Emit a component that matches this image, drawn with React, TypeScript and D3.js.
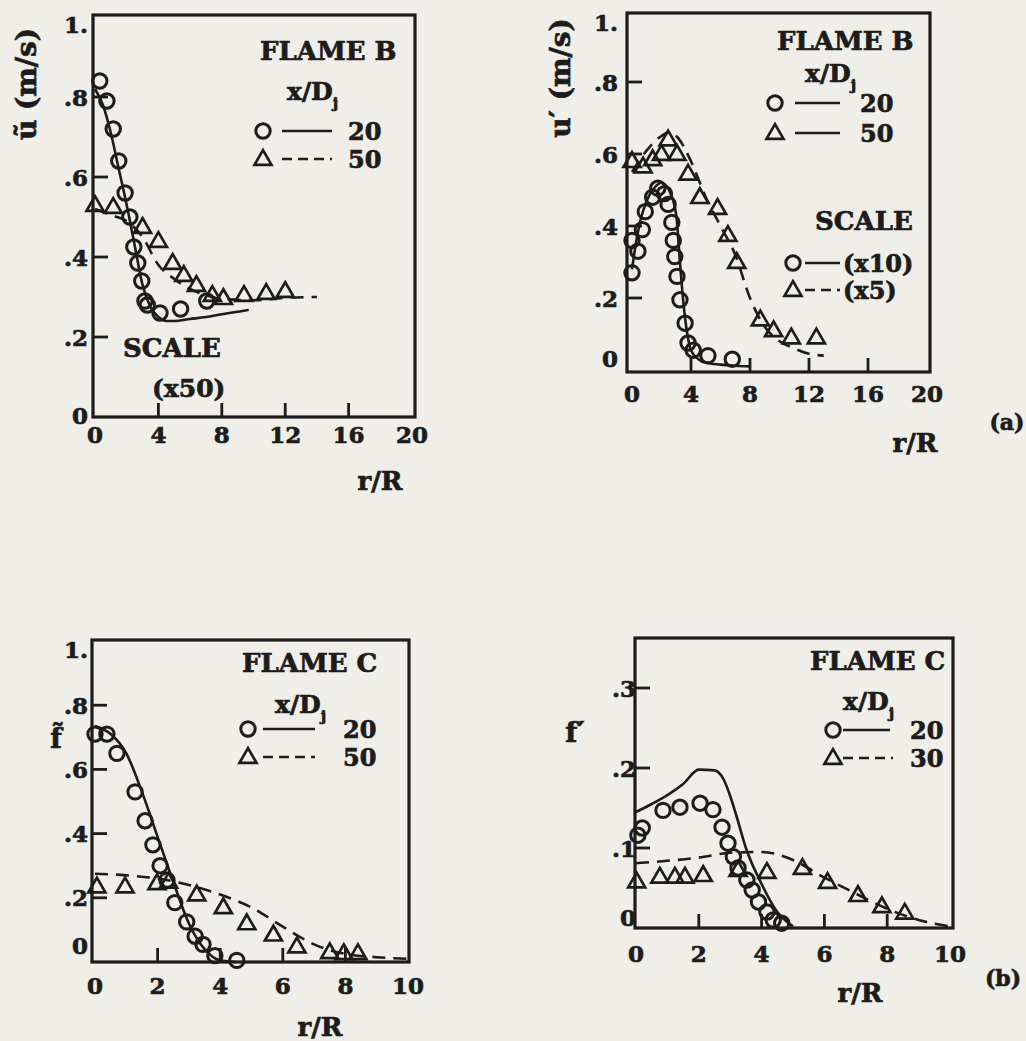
import React from "react";
import * as d3 from "d3";

const W = 1026;
const H = 1041;
const ink = "#1d1c1a";
const paper = "#efeee9";
const font = "'DejaVu Serif', serif";

// (a) left: mean axial velocity, flame B
const uMeanCircR = [0.3, 0.75, 1.15, 1.5, 1.9, 2.2, 2.45, 2.7, 2.95, 3.15, 3.3, 4.1, 5.4, 7.05];
const uMeanCircV = [0.84, 0.79, 0.72, 0.64, 0.56, 0.5, 0.425, 0.385, 0.34, 0.29, 0.28, 0.26, 0.27, 0.29];
const uMeanLineR = [0, 0.5, 1, 1.5, 2, 2.5, 3, 3.5, 4, 4.5, 5, 6, 7, 8, 9, 9.7];
const uMeanLineV = [0.82, 0.78, 0.71, 0.62, 0.53, 0.43, 0.33, 0.275, 0.25, 0.24, 0.24, 0.245, 0.25, 0.257, 0.263, 0.268];
const uMeanTriR = [0, 1.15, 3.0, 4.0, 4.9, 5.6, 6.4, 7.4, 8.1, 9.4, 10.8, 12.0];
const uMeanTriV = [0.53, 0.525, 0.475, 0.44, 0.385, 0.355, 0.33, 0.305, 0.297, 0.305, 0.31, 0.315];
const uMeanDashR = [0, 1, 2, 3, 4, 5, 6, 7, 8, 10, 12, 14];
const uMeanDashV = [0.52, 0.505, 0.49, 0.45, 0.38, 0.345, 0.32, 0.305, 0.295, 0.292, 0.298, 0.3];

// (a) right: velocity fluctuation, flame B
const uRmsCircR = [0, 0, 0.4, 0.7, 0.9, 1.4, 1.75, 2.2, 2.45, 2.7, 2.8, 2.9, 3.05, 3.25, 3.6, 3.8, 4.15, 5.15, 6.8];
const uRmsCircV = [0.27, 0.36, 0.33, 0.39, 0.44, 0.48, 0.505, 0.49, 0.46, 0.41, 0.36, 0.315, 0.26, 0.195, 0.13, 0.075, 0.055, 0.04, 0.03];
const uRmsLineR = [0, 0.3, 0.6, 1, 1.5, 2, 2.5, 3, 3.25, 3.5, 3.75, 4, 4.5, 5, 6, 7, 8];
const uRmsLineV = [0.28, 0.36, 0.42, 0.47, 0.505, 0.52, 0.5, 0.43, 0.3, 0.18, 0.1, 0.055, 0.03, 0.02, 0.015, 0.012, 0.01];
const uRmsTriR = [0, 0.75, 1.4, 2.0, 2.45, 3.05, 3.8, 4.6, 5.8, 6.5, 7.1, 8.7, 9.6, 10.8, 12.5];
const uRmsTriV = [0.58, 0.565, 0.585, 0.6, 0.64, 0.6, 0.545, 0.48, 0.45, 0.375, 0.3, 0.14, 0.11, 0.09, 0.09];
const uRmsDashR = [0, 1, 2, 2.5, 3, 4, 5, 6, 7, 8, 9, 10, 11, 12, 13];
const uRmsDashV = [0.55, 0.61, 0.65, 0.66, 0.65, 0.58, 0.48, 0.4, 0.32, 0.2, 0.12, 0.08, 0.06, 0.045, 0.04];

// (b) left: mean mixture fraction, flame C
const fMeanCircR = [0, 0.38, 0.7, 1.28, 1.6, 1.85, 2.08, 2.3, 2.55, 2.93, 3.2, 3.45, 3.83, 4.53];
const fMeanCircV = [0.71, 0.71, 0.65, 0.53, 0.44, 0.365, 0.3, 0.255, 0.185, 0.125, 0.08, 0.055, 0.02, 0.005];
const fMeanLineR = [0, 0.5, 1, 1.5, 2, 2.5, 3, 3.5, 4, 4.5];
const fMeanLineV = [0.735, 0.71, 0.65, 0.53, 0.39, 0.25, 0.12, 0.04, 0.005, 0];
const fMeanTriR = [0.06, 0.96, 1.98, 2.35, 3.25, 4.1, 4.85, 5.7, 6.45, 7.5, 7.95, 8.4];
const fMeanTriV = [0.235, 0.235, 0.245, 0.25, 0.21, 0.17, 0.12, 0.085, 0.048, 0.03, 0.027, 0.027];
const fMeanDashR = [0, 1, 2, 3, 4, 5, 6, 7, 8, 9, 10];
const fMeanDashV = [0.275, 0.27, 0.26, 0.24, 0.21, 0.17, 0.11, 0.055, 0.025, 0.015, 0.01];

// (b) right: mixture fraction fluctuation, flame C
const fRmsCircR = [0.06, 0.2, 0.86, 1.4, 2.04, 2.45, 2.74, 2.93, 3.1, 3.25, 3.53, 3.7, 3.9, 4.17, 4.37, 4.64];
const fRmsCircV = [0.116, 0.125, 0.147, 0.151, 0.156, 0.148, 0.126, 0.106, 0.089, 0.075, 0.06, 0.0475, 0.0325, 0.02, 0.01, 0.006];
const fRmsLineR = [0, 0.5, 1, 1.5, 2, 2.5, 2.8, 3, 3.2, 3.5, 4, 4.5, 5];
const fRmsLineV = [0.145, 0.155, 0.166, 0.18, 0.198, 0.197, 0.185, 0.165, 0.14, 0.1, 0.055, 0.02, 0.002];
const fRmsTriR = [0.02, 0.76, 1.24, 1.56, 2.14, 3.25, 4.17, 5.3, 6.1, 7.07, 7.83, 8.56];
const fRmsTriV = [0.058, 0.064, 0.064, 0.064, 0.066, 0.0725, 0.07, 0.075, 0.0575, 0.041, 0.027, 0.019];
const fRmsDashR = [0, 1, 2, 3, 4, 5, 6, 7, 8, 9, 10];
const fRmsDashV = [0.081, 0.084, 0.088, 0.094, 0.095, 0.085, 0.063, 0.043, 0.024, 0.01, 0.002];

// ticks
const xTicks20 = [0, 4, 8, 12, 16, 20];
const xTicks10 = [0, 2, 4, 6, 8, 10];
const yTicks1 = [0, 0.2, 0.4, 0.6, 0.8, 1];
const yLabels1 = ["0", ".2", ".4", ".6", ".8", "1."];
const yTicks03 = [0, 0.1, 0.2, 0.3];
const yLabels03 = ["0", ".1", ".2", ".3"];

const triPath = (cx: number, cy: number, s = 8.5) =>
  `M${cx},${cy - s * 1.05}L${cx + s},${cy + s * 0.68}L${cx - s},${cy + s * 0.68}Z`;

const Marker = ({ shape, cx, cy }: { shape: string; cx: number; cy: number }) =>
  shape === "circle" ? (
    <circle cx={cx} cy={cy} r={7.2} fill="none" stroke={ink} strokeWidth={3} />
  ) : (
    <path d={triPath(cx, cy)} fill="none" stroke={ink} strokeWidth={2.7} strokeLinejoin="miter" />
  );

type Box = { l: number; t: number; r: number; b: number };
type Curve = { r: number[]; v: number[]; dashed?: boolean };
type Marks = { r: number[]; v: number[]; shape: string };

const Panel = ({
  box, xDomain, xRange, yDomain, yRange, xTicks, yTicks, yLabels,
  yLabelX, xLabelY, zeroLift, curves, marks, children,
}: {
  box: Box; xDomain: number[]; xRange: number[]; yDomain: number[]; yRange: number[];
  xTicks: number[]; yTicks: number[]; yLabels: string[]; yLabelX: number; xLabelY: number;
  zeroLift: number; curves: Curve[]; marks: Marks[]; children?: React.ReactNode;
}) => {
  const x = d3.scaleLinear().domain(xDomain).range(xRange);
  const y = d3.scaleLinear().domain(yDomain).range(yRange);
  const line = d3
    .line<[number, number]>()
    .x((d) => x(d[0]))
    .y((d) => y(d[1]))
    .curve(d3.curveMonotoneX);

  return (
    <g>
      <rect x={box.l} y={box.t} width={box.r - box.l} height={box.b - box.t} fill="none" stroke={ink} strokeWidth={3.2} />
      {yTicks.filter((v) => y(v) < box.b - 5 && y(v) > box.t + 5).map((v) => (
        <line key={"yt" + v} x1={box.l} x2={box.l + 15} y1={y(v)} y2={y(v)} stroke={ink} strokeWidth={2.8} />
      ))}
      {xTicks.filter((v) => x(v) > box.l + 5 && x(v) < box.r - 5).map((v) => (
        <line key={"xt" + v} x1={x(v)} x2={x(v)} y1={box.b} y2={box.b - 14} stroke={ink} strokeWidth={2.8} />
      ))}
      {yTicks.map((v, i) => (
        <text
          key={"yl" + v}
          x={yLabelX}
          y={v === 0 ? y(v) - zeroLift : Math.max(y(v), box.t + 9)}
          textAnchor="end"
          dominantBaseline="central"
          fontSize={23}
        >
          {yLabels[i]}
        </text>
      ))}
      {xTicks.map((v) => (
        <text key={"xl" + v} x={x(v)} y={xLabelY} textAnchor="middle" dominantBaseline="central" fontSize={23}>
          {v}
        </text>
      ))}
      {curves.map((c, i) => (
        <path
          key={"c" + i}
          d={line(d3.zip(c.r, c.v) as [number, number][]) ?? ""}
          fill="none"
          stroke={ink}
          strokeWidth={2.6}
          strokeDasharray={c.dashed ? "13 8" : undefined}
        />
      ))}
      {marks.map((m, i) =>
        m.r.map((r, j) => <Marker key={"m" + i + "-" + j} shape={m.shape} cx={x(r)} cy={y(m.v[j])} />)
      )}
      {children}
    </g>
  );
};

const LegendRow = ({
  shape, mx, y, x1, x2, dashed, label, lx,
}: {
  shape: string; mx: number; y: number; x1: number; x2: number; dashed?: boolean; label: string; lx: number;
}) => (
  <g>
    <Marker shape={shape} cx={mx} cy={y} />
    <line x1={x1} x2={x2} y1={y} y2={y} stroke={ink} strokeWidth={2.6} strokeDasharray={dashed ? "10 6" : undefined} />
    <text x={lx} y={y + 9} fontSize={24}>
      {label}
    </text>
  </g>
);

const XD = ({ x, y }: { x: number; y: number }) => (
  <text x={x} y={y} fontSize={25}>
    x/D
    <tspan dy={8} fontSize={15}>j</tspan>
  </text>
);

export default function App() {
  return (
    <div style={{ position: "absolute", left: 0, top: 0 }}>
      <svg width={W} height={H} fontFamily={font} fontWeight="bold" fill={ink} style={{ display: "block" }}>
        <style>{`text{stroke:${ink};stroke-width:0.7px;}`}</style>
        <rect width={W} height={H} fill={paper} />

        {/* top left: u mean */}
        <Panel
          box={{ l: 93, t: 15, r: 415, b: 417 }}
          xDomain={[0, 20]} xRange={[95, 412]} yDomain={[0, 1]} yRange={[417, 17]}
          xTicks={xTicks20} yTicks={yTicks1} yLabels={yLabels1}
          yLabelX={88} xLabelY={434} zeroLift={2}
          curves={[{ r: uMeanLineR, v: uMeanLineV }, { r: uMeanDashR, v: uMeanDashV, dashed: true }]}
          marks={[{ r: uMeanCircR, v: uMeanCircV, shape: "circle" }, { r: uMeanTriR, v: uMeanTriV, shape: "triangle" }]}
        >
          <text x={260} y={60} fontSize={26}>FLAME B</text>
          <XD x={287} y={100} />
          <LegendRow shape="circle" mx={263} y={131} x1={282} x2={332} label="20" lx={348} />
          <LegendRow shape="triangle" mx={263} y={159} x1={282} x2={332} dashed label="50" lx={348} />
          <text x={123} y={357} fontSize={26}>SCALE</text>
          <text x={152} y={397} fontSize={25}>(x50)</text>
          <text x={380} y={490} textAnchor="middle" fontSize={26}>r/R</text>
          <text transform="translate(36,84) rotate(-90)" textAnchor="middle" fontSize={28}>ũ (m/s)</text>
        </Panel>

        {/* top right: u fluctuation */}
        <Panel
          box={{ l: 627, t: 13, r: 930, b: 372 }}
          xDomain={[0, 20]} xRange={[632, 927]} yDomain={[0, 1]} yRange={[370, 10]}
          xTicks={xTicks20} yTicks={yTicks1} yLabels={yLabels1}
          yLabelX={618} xLabelY={393} zeroLift={12}
          curves={[{ r: uRmsLineR, v: uRmsLineV }, { r: uRmsDashR, v: uRmsDashV, dashed: true }]}
          marks={[{ r: uRmsCircR, v: uRmsCircV, shape: "circle" }, { r: uRmsTriR, v: uRmsTriV, shape: "triangle" }]}
        >
          <text x={777} y={50} fontSize={26}>FLAME B</text>
          <XD x={805} y={82} />
          <LegendRow shape="circle" mx={775} y={103} x1={795} x2={840} label="20" lx={860} />
          <LegendRow shape="triangle" mx={775} y={133} x1={795} x2={840} label="50" lx={860} />
          <text x={815} y={230} fontSize={26}>SCALE</text>
          <LegendRow shape="circle" mx={793} y={263} x1={805} x2={840} label="(x10)" lx={843} />
          <LegendRow shape="triangle" mx={793} y={290} x1={805} x2={840} dashed label="(x5)" lx={843} />
          <text x={915} y={452} textAnchor="middle" fontSize={26}>r/R</text>
          <text x={1007} y={430} textAnchor="middle" fontSize={22}>(a)</text>
          <text transform="translate(570,78) rotate(-90)" textAnchor="middle" fontSize={28}>u′ (m/s)</text>
        </Panel>

        {/* bottom left: f mean */}
        <Panel
          box={{ l: 92, t: 640, r: 409, b: 962 }}
          xDomain={[0, 10]} xRange={[95, 408]} yDomain={[0, 1]} yRange={[962, 641]}
          xTicks={xTicks10} yTicks={yTicks1} yLabels={yLabels1}
          yLabelX={88} xLabelY={985} zeroLift={17}
          curves={[{ r: fMeanLineR, v: fMeanLineV }, { r: fMeanDashR, v: fMeanDashV, dashed: true }]}
          marks={[{ r: fMeanCircR, v: fMeanCircV, shape: "circle" }, { r: fMeanTriR, v: fMeanTriV, shape: "triangle" }]}
        >
          <text x={242} y={672} fontSize={26}>FLAME C</text>
          <XD x={275} y={713} />
          <LegendRow shape="circle" mx={248} y={729} x1={263} x2={315} label="20" lx={343} />
          <LegendRow shape="triangle" mx={248} y={757} x1={263} x2={315} dashed label="50" lx={343} />
          <text x={320} y={1036} textAnchor="middle" fontSize={26}>r/R</text>
          <text x={56} y={748} textAnchor="middle" fontSize={27}>f̃</text>
        </Panel>

        {/* bottom right: f fluctuation */}
        <Panel
          box={{ l: 635, t: 638, r: 953, b: 928 }}
          xDomain={[0, 10]} xRange={[636, 950]} yDomain={[0, 0.3]} yRange={[928, 688]}
          xTicks={xTicks10} yTicks={yTicks03} yLabels={yLabels03}
          yLabelX={636} xLabelY={953} zeroLift={11}
          curves={[{ r: fRmsLineR, v: fRmsLineV }, { r: fRmsDashR, v: fRmsDashV, dashed: true }]}
          marks={[{ r: fRmsCircR, v: fRmsCircV, shape: "circle" }, { r: fRmsTriR, v: fRmsTriV, shape: "triangle" }]}
        >
          <text x={810} y={670} fontSize={26}>FLAME C</text>
          <XD x={843} y={710} />
          <LegendRow shape="circle" mx={833} y={730} x1={843} x2={890} label="20" lx={910} />
          <LegendRow shape="triangle" mx={833} y={758} x1={843} x2={893} dashed label="30" lx={910} />
          <text x={860} y={1002} textAnchor="middle" fontSize={26}>r/R</text>
          <text x={1003} y={986} textAnchor="middle" fontSize={22}>(b)</text>
          <text x={575} y={742} textAnchor="middle" fontSize={28}>f′</text>
        </Panel>
      </svg>
    </div>
  );
}
